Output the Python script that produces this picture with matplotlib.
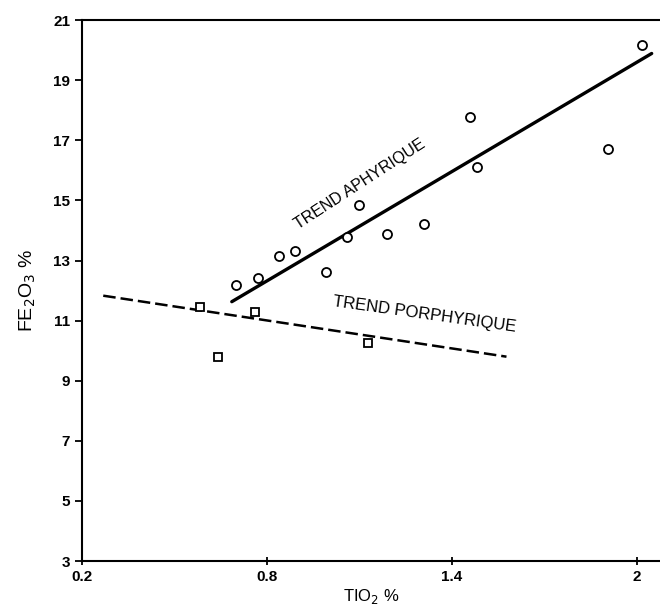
import matplotlib.pyplot as plt

# circles: aphyric samples
tio2_aphyr = [0.70, 0.77, 0.84, 0.89, 0.99, 1.06, 1.10, 1.19, 1.31, 1.46, 1.48, 1.905, 2.017]
fe2o3_aphyr = [12.18, 12.42, 13.14, 13.31, 12.61, 13.79, 14.85, 13.88, 14.23, 17.78, 16.11, 16.71, 20.17]

# squares: porphyric samples
tio2_porph = [0.583, 0.642, 0.761, 1.129]
fe2o3_porph = [11.46, 9.80, 11.29, 10.26]

# trend lines (end points)
trend_aphyr_x = [0.686, 2.048]
trend_aphyr_y = [11.63, 19.89]
trend_porph_x = [0.269, 1.577]
trend_porph_y = [11.83, 9.80]

xticks = [0.2, 0.8, 1.4, 2]
xticklabels = ['0.2', '0.8', '1.4', '2']
yticks = [3, 5, 7, 9, 11, 13, 15, 17, 19, 21]

plt.rcParams['font.family'] = ['Liberation Sans', 'DejaVu Sans']

fig = plt.figure(figsize=(6.6, 6.1), dpi=100)
ax = fig.add_axes([0.1242, 0.0803, 0.8758, 0.8867])

ax.plot(trend_aphyr_x, trend_aphyr_y, color='black', lw=2.4, solid_capstyle='round')
ax.plot(trend_porph_x, trend_porph_y, color='black', lw=1.8, dashes=(5, 2))

ax.plot(tio2_aphyr, fe2o3_aphyr, 'o', ms=6.5, mfc='white', mec='black', mew=1.3)
ax.plot(tio2_porph, fe2o3_porph, 's', ms=5.5, mfc='white', mec='black', mew=1.3)

ax.text(1.1, 15.55, 'TREND APHYRIQUE', rotation=33, ha='center', va='center',
        fontsize=11.5, rotation_mode='anchor')
ax.text(1.31, 11.2, 'TREND PORPHYRIQUE', rotation=-8, ha='center', va='center',
        fontsize=12, rotation_mode='anchor')

ax.set_xlim(0.2, 2.075)
ax.set_ylim(3, 21)
ax.set_xticks(xticks)
ax.set_xticklabels(xticklabels)
ax.set_yticks(yticks)
ax.tick_params(axis='y', direction='out', length=5, width=1.3, labelsize=11)
ax.tick_params(axis='x', direction='inout', length=6, width=1.3, labelsize=11)
for lbl in ax.get_xticklabels() + ax.get_yticklabels():
    lbl.set_fontweight('bold')

ax.spines['right'].set_visible(False)
for s in ['left', 'bottom', 'top']:
    ax.spines[s].set_linewidth(1.5)

ax.set_xlabel('TIO$_2$ %', fontsize=12, labelpad=2)
ax.set_ylabel('FE$_2$O$_3$ %', fontsize=14, labelpad=11)

fig.savefig('out.png', dpi=100)
